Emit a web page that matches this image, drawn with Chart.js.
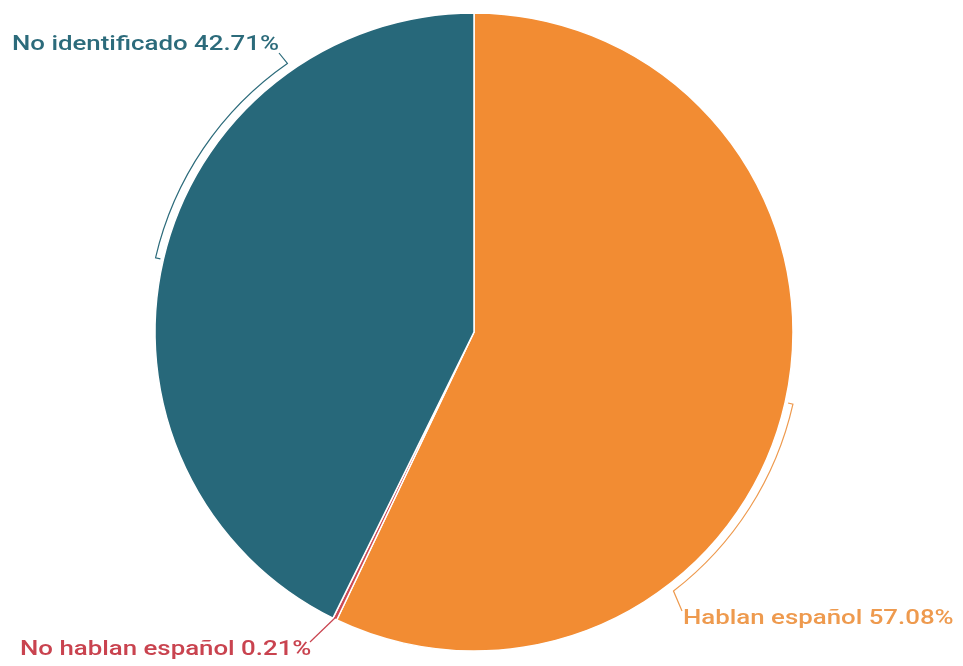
<!DOCTYPE html>
<html>
<head>
<meta charset="utf-8">
<script src="https://cdn.jsdelivr.net/npm/chart.js@4/dist/chart.umd.min.js"></script>
<style>
  html, body { margin: 0; padding: 0; background: #ffffff; }
  #wrap { width: 963px; height: 666px; position: relative; }
</style>
</head>
<body>
<div id="wrap"><canvas id="c"></canvas></div>
<script>
const categories = ['Hablan español', 'No hablan español', 'No identificado'];
const values = [57.08, 0.21, 42.71];
const sliceColors = ['#F28C33', '#CC4A55', '#27687A'];
const labelColors = ['#EE9A4E', '#C9434F', '#2C6B7B'];

// label layout (screen placement of each label text + leader geometry)
const labelLayout = [
  { bracketTo: 52.4, text: { x: 683, y: 624 }, leader: { x: 682, y: 611 } },
  { bracketTo: null, text: { x: 20, y: 655 }, leader: { x: 310, y: 642 } },
  { bracketTo: 235.2, text: { x: 12, y: 50 }, leader: { x: 279, y: 53 } }
];
const textStretch = 1.23;

const labelPlugin = {
  id: 'bracketLabels',
  afterDatasetsDraw(chart) {
    const ctx = chart.ctx;
    const meta = chart.getDatasetMeta(0);
    meta.data.forEach((arc, i) => {
      const p = arc.getProps(['x', 'y', 'startAngle', 'endAngle', 'outerRadius'], true);
      const mid = (p.startAngle + p.endAngle) / 2;
      const R = p.outerRadius;
      const rb = R + 8;
      const lay = labelLayout[i];
      ctx.save();
      ctx.strokeStyle = labelColors[i];
      ctx.lineWidth = 1.2;
      ctx.beginPath();
      if (lay.bracketTo !== null) {
        let end = lay.bracketTo * Math.PI / 180;
        while (end < mid) end += Math.PI * 2;
        ctx.moveTo(p.x + (R + 3) * Math.cos(mid), p.y + (R + 3) * Math.sin(mid));
        ctx.lineTo(p.x + rb * Math.cos(mid), p.y + rb * Math.sin(mid));
        ctx.arc(p.x, p.y, rb, mid, end, false);
        ctx.lineTo(lay.leader.x, lay.leader.y);
      } else {
        ctx.moveTo(p.x + (R - 2) * Math.cos(mid), p.y + (R - 2) * Math.sin(mid));
        ctx.lineTo(lay.leader.x, lay.leader.y);
      }
      ctx.stroke();
      ctx.fillStyle = labelColors[i];
      ctx.font = '500 21px Roboto';
      ctx.textAlign = 'left';
      ctx.textBaseline = 'alphabetic';
      ctx.translate(lay.text.x, lay.text.y);
      ctx.scale(textStretch, 1);
      ctx.fillText(categories[i] + ' ' + values[i].toFixed(2) + '%', 0, 0);
      ctx.restore();
    });
  }
};

new Chart(document.getElementById('c'), {
  type: 'pie',
  data: {
    labels: categories,
    datasets: [{
      data: values,
      backgroundColor: sliceColors,
      borderColor: '#ffffff',
      borderWidth: 1.5
    }]
  },
  options: {
    responsive: true,
    maintainAspectRatio: false,
    animation: false,
    radius: 319,
    layout: { padding: { left: 155, right: 170, top: 13, bottom: 15 } },
    plugins: {
      legend: { display: false },
      tooltip: { enabled: false }
    }
  },
  plugins: [labelPlugin]
});
</script>
</body>
</html>
